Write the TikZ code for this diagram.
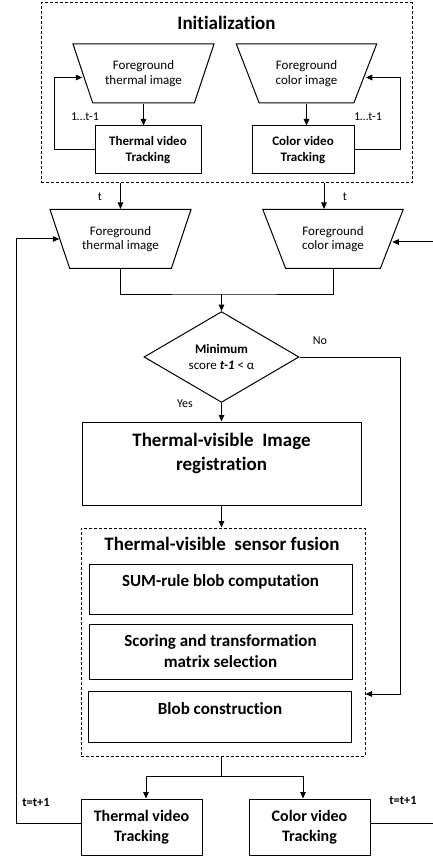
\documentclass[tikz,border=0pt]{standalone}
\usepackage{fontspec}
\setmainfont{Carlito}[Ligatures=NoCommon]
\usetikzlibrary{shapes.geometric,arrows.meta,calc}

\begin{document}
\begin{tikzpicture}[x=1pt,y=-1pt,
  line width=1pt,
  >={Triangle[length=6.5pt,width=5.5pt]},
  trap/.style={draw, trapezium, trapezium angle=60, trapezium stretches=true,
    shape border rotate=180, minimum width=141pt, minimum height=59pt,
    inner sep=0pt, align=center, font=\fontsize{13}{14.5}\selectfont},
  box/.style={draw, rectangle, inner sep=0pt, align=center},
  grp/.style={draw, dash pattern=on 3pt off 2pt, rectangle, inner sep=0pt},
  track/.style={box, font=\bfseries\fontsize{13}{16}\selectfont},
  bigtrack/.style={box, font=\bfseries\fontsize{16}{20}\selectfont},
  stage/.style={box, minimum width=263pt},
  big/.style={inner sep=0pt, align=center, font=\bfseries\fontsize{19}{24}\selectfont},
  mid/.style={inner sep=0pt, align=center, font=\bfseries\fontsize{17}{21}\selectfont},
  lbl/.style={inner sep=0pt, font=\fontsize{12}{14}\selectfont},
  blbl/.style={inner sep=0pt, font=\bfseries\fontsize{12.5}{14}\selectfont},
]
\useasboundingbox (0,0) rectangle (433,858);

% ---------- initialization block ----------
\node[grp, minimum width=371pt, minimum height=180pt] (init) at (226.5,93) {};
\node[big] (inittitle) at (226.5,23) {Initialization};

\node[trap] (it1) at (143.5,73.5) {Foreground\\thermal image};
\node[trap] (it2) at (306.5,73.5) {Foreground\\color image};
\node[track, minimum width=106pt, minimum height=48pt] (ib1) at (148,150) {Thermal video\\Tracking};
\node[track, minimum width=102pt, minimum height=48pt] (ib2) at (303,150) {Color video\\Tracking};

\draw[->] (it1.south) -- (it1.south |- ib1.north);
\draw[->] (it2.south) -- (it2.south |- ib2.north);
\draw[->] (ib1.west) -- ++(-40,0) |- ([yshift=-4pt]it1.west);
\draw[->] (ib2.east) -- ++(46,0) |- ([yshift=-4pt]it2.east);
\node[lbl] (l1) at (85,117) {1…t-1};
\node[lbl] (l2) at (368,117) {1…t-1};

% ---------- current frame ----------
\node[trap] (tt3) at (120.5,239) {Foreground\\thermal image};
\node[trap] (tt4) at (333,239) {Foreground\\color image};

\draw[->] (init.south -| tt3.north) -- (tt3.north);
\draw[->] ([xshift=-9pt]tt4.north |- init.south) -- ([xshift=-9pt]tt4.north);
\node[lbl] (t1) at (100,197) {t};
\node[lbl] (t2) at (345,197) {t};

\node[diamond, draw, minimum width=155pt, minimum height=78pt, inner sep=0pt,
  align=center, font=\fontsize{13}{16}\selectfont] (dia) at (221.5,357)
  {\textbf{Minimum}\\score \textbf{\textit{t-1}} < α};

\coordinate (join) at (221.5,294);
\draw (tt3.south) |- (join) -| (tt4.south);
\draw[->] (join) -- (dia.north);

% ---------- registration ----------
\node[box, minimum width=279pt, minimum height=83pt] (reg) at (221.5,463.5) {};
\node[big] (regtext) at (221.5,453) {Thermal-visible\ \ Image\\registration};
\draw[->] (dia.south) -- (reg.north);
\node[lbl] (yes) at (185,404) {Yes};

% ---------- fusion ----------
\node[grp, minimum width=284pt, minimum height=228pt] (fus) at (223,642) {};
\node[big] (fustitle) at (222,544) {Thermal-visible\ \ sensor fusion};
\draw[->] (reg.south) -- (reg.south |- fus.north);

\node[stage, minimum height=50pt] (sum) at (220.5,589) {};
\node[mid] (sumtext) at (220.5,582) {SUM-rule blob computation};
\node[stage, minimum height=55pt, mid] (score) at (220.5,651.5) {Scoring and transformation\\matrix selection};
\node[stage, minimum height=51pt] (blob) at (220,716.5) {};
\node[mid] (blobtext) at (220,709) {Blob construction};

\coordinate (nocorner) at (400,357);
\draw[->] (dia.east) -- (nocorner) |- ([yshift=-52pt]fus.east);
\node[lbl] (no) at (320,341) {No};

% ---------- tracking ----------
\node[bigtrack, minimum width=121pt, minimum height=56pt] (bt) at (141.5,827) {Thermal video\\Tracking};
\node[bigtrack, minimum width=121pt, minimum height=56pt] (bc) at (309.5,827) {Color video\\Tracking};

\coordinate (split) at (221,776);
\draw (fus.south -| split) -- (split);
\draw[->] (split) -| ([xshift=4.5pt]bt.north);
\draw[->] (split) -| ([xshift=-6.5pt]bc.north);

\coordinate (lloop) at (16,0);
\coordinate (redge) at (433,0);
\draw[->] ([yshift=4pt]bt.west) -| (lloop |- tt3.west) -- (tt3.west);
\draw ([yshift=4pt]bc.east) -- ([yshift=4pt]bc.east -| redge);
\draw[->] ([yshift=-3pt]tt4.east -| redge) -- ([yshift=-3pt]tt4.east);
\node[blbl] (tl) at (36,802) {t=t+1};
\node[blbl] (tr) at (403,800) {t=t+1};
\end{tikzpicture}
\end{document}
